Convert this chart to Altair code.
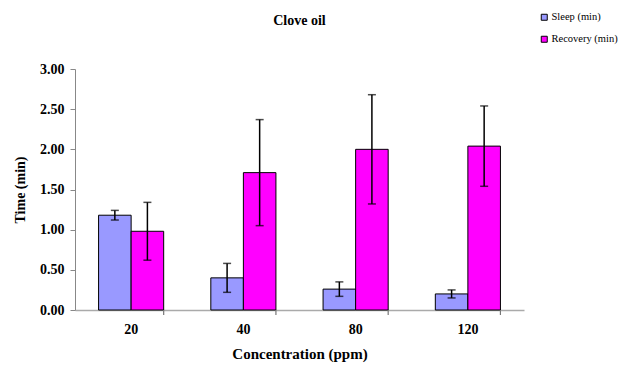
import altair as alt
import pandas as pd

concentrations = ["20", "40", "80", "120"]
sleep = [1.18, 0.40, 0.26, 0.20]
sleep_err = [0.06, 0.18, 0.09, 0.05]
recovery = [0.98, 1.71, 2.00, 2.04]
recovery_err = [0.36, 0.66, 0.68, 0.50]
series = ["Sleep (min)", "Recovery (min)"]
colors = ["#9999FF", "#FF00FF"]

rows = []
for i, c in enumerate(concentrations):
    rows.append({"conc": c, "series": series[0], "value": sleep[i],
                 "lo": sleep[i] - sleep_err[i], "hi": sleep[i] + sleep_err[i]})
    rows.append({"conc": c, "series": series[1], "value": recovery[i],
                 "lo": recovery[i] - recovery_err[i], "hi": recovery[i] + recovery_err[i]})
df = pd.DataFrame(rows)

FONT = "'Liberation Serif', 'Times New Roman', serif"
W, H = 449, 241

xenc = alt.X("conc:N", sort=concentrations,
             scale=alt.Scale(paddingInner=0.42, paddingOuter=0.21),
             axis=alt.Axis(title="Concentration (ppm)", labelAngle=0, ticks=False,
                           labelFont=FONT, labelFontWeight="bold", labelFontSize=14,
                           labelColor="black", labelPadding=12,
                           titleFont=FONT, titleFontWeight="bold", titleFontSize=15,
                           titleColor="black", titlePadding=10,
                           domainColor="#aaaaaa", domainWidth=1.5))
xoff = alt.XOffset("series:N", sort=series, scale=alt.Scale(paddingInner=0, paddingOuter=0))

yscale = alt.Scale(domain=[0, 3])

bars = alt.Chart(df).mark_bar(stroke="black", strokeWidth=1).encode(
    x=xenc,
    xOffset=xoff,
    y=alt.Y("value:Q", scale=yscale,
            axis=alt.Axis(title="Time (min)", values=[0, 0.5, 1, 1.5, 2, 2.5, 3],
                          format=".2f", grid=False,
                          labelFont=FONT, labelFontWeight="bold", labelFontSize=14,
                          labelColor="black", labelPadding=6,
                          titleFont=FONT, titleFontWeight="bold", titleFontSize=14,
                          titleColor="black", titlePadding=12,
                          domainColor="#888888", tickColor="#888888", tickSize=5)),
    color=alt.Color("series:N", sort=series,
                    scale=alt.Scale(domain=series, range=colors),
                    legend=alt.Legend(title=None, orient="none", legendX=464, legendY=-57,
                                      symbolType="square", symbolSize=36,
                                      symbolStrokeColor="black", symbolStrokeWidth=1,
                                      labelFont=FONT, labelFontSize=10.5, labelColor="black",
                                      rowPadding=11, labelOffset=2)),
)

err = alt.Chart(df).mark_rule(color="black", strokeWidth=1.5).encode(
    x=alt.X("conc:N", sort=concentrations),
    xOffset=xoff,
    y=alt.Y("lo:Q", scale=yscale),
    y2="hi:Q",
)
cap_lo = alt.Chart(df).mark_tick(color="black", thickness=1.5, size=8).encode(
    x=alt.X("conc:N", sort=concentrations),
    xOffset=xoff,
    y=alt.Y("lo:Q", scale=yscale),
)
cap_hi = alt.Chart(df).mark_tick(color="black", thickness=1.5, size=8).encode(
    x=alt.X("conc:N", sort=concentrations),
    xOffset=xoff,
    y=alt.Y("hi:Q", scale=yscale),
)

sep = alt.Chart(pd.DataFrame({"conc": concentrations})).mark_rule(
    color="#777777", strokeWidth=1.2).encode(
    x=alt.X("conc:N", sort=concentrations, bandPosition=1),
    y=alt.value(H),
    y2=alt.value(H + 5),
)

chart = alt.layer(bars, err, cap_lo, cap_hi, sep).properties(
    width=W, height=H,
    background="white",
    title=alt.Title("Clove oil", font=FONT, fontSize=14, fontWeight="bold",
                    color="black", anchor="middle", offset=0, dy=16),
    autosize=alt.AutoSizeParams(type="none"),
    padding={"left": 75, "top": 69, "right": 107, "bottom": 56},
).configure_view(strokeWidth=0, stroke="transparent")

chart.save("out.html", embed_options={"renderer": "svg", "actions": False})
